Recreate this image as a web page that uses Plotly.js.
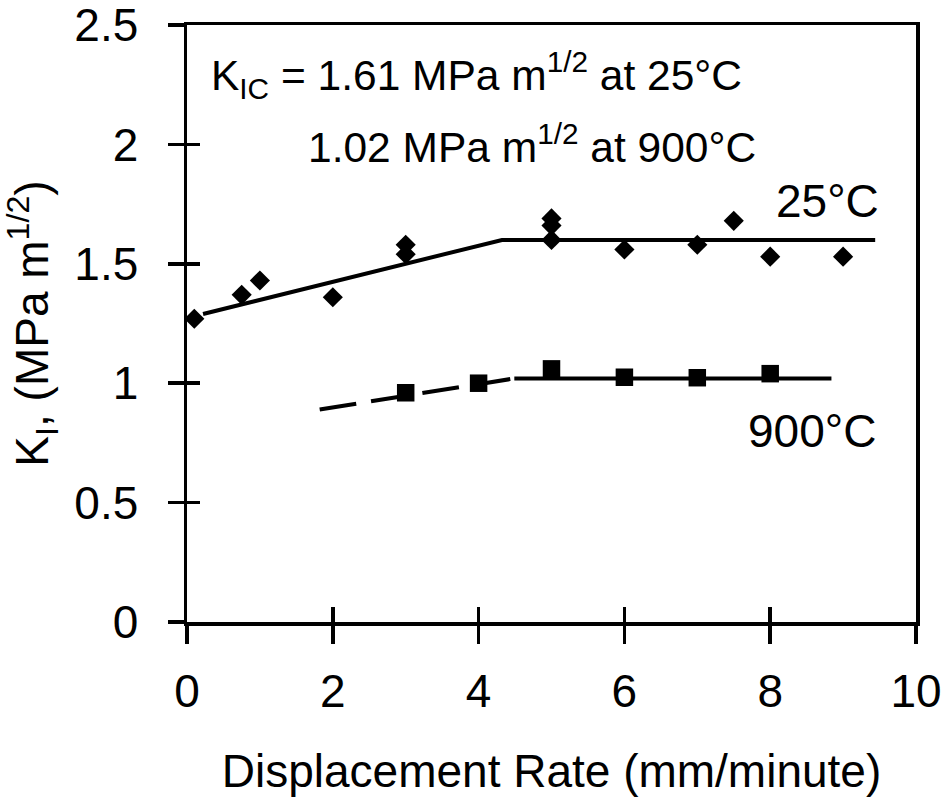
<!DOCTYPE html>
<html>
<head>
<meta charset="utf-8">
<script src="https://cdn.plot.ly/plotly-3.0.1.min.js"></script>
<style>html,body{margin:0;padding:0;background:#fff;}#chart{width:944px;height:803px;}</style>
</head>
<body>
<div id="chart"></div>
<script>
// Measured data, 25°C (diamonds)
const rate25 = [0.1, 0.75, 1.0, 2.0, 3.0, 3.0, 5.0, 5.0, 5.0, 6.0, 7.0, 7.5, 8.0, 9.0];
const k25    = [1.27, 1.37, 1.43, 1.36, 1.58, 1.54, 1.69, 1.66, 1.60, 1.56, 1.58, 1.68, 1.53, 1.53];
// Measured data, 900°C (squares)
const rate900 = [3.0, 4.0, 5.0, 6.0, 7.0, 8.0];
const k900    = [0.96, 1.00, 1.06, 1.025, 1.023, 1.04];
// Fit lines
const fit25X = [0.22, 4.32, 9.44];
const fit25Y = [1.29, 1.60, 1.60];
const fit900DashX = [1.82, 4.49];
const fit900DashY = [0.89, 1.02];
const fit900X = [4.49, 8.84];
const fit900Y = [1.02, 1.02];
// Axis ticks
const xTicks = [0, 2, 4, 6, 8, 10];
const yTicks = [0, 0.5, 1, 1.5, 2, 2.5];
const yTickText = ['0', '0.5', '1', '1.5', '2', '2.5'];

const FONT = 'Liberation Sans, Arial, Helvetica, sans-serif';

const traces = [
  {x: fit25X, y: fit25Y, mode: 'lines', line: {color: '#000', width: 4}, hoverinfo: 'skip'},
  {x: fit900DashX, y: fit900DashY, mode: 'lines', line: {color: '#000', width: 4, dash: '37px,15px'}, hoverinfo: 'skip'},
  {x: fit900X, y: fit900Y, mode: 'lines', line: {color: '#000', width: 4}, hoverinfo: 'skip'},
  {x: rate25, y: k25, mode: 'markers', marker: {symbol: 'diamond', size: 15.5, color: '#000'}},
  {x: rate900, y: k900, mode: 'markers', marker: {symbol: 'square', size: 17.5, color: '#000'}},
  {x: [], y: [], xaxis: 'x2', yaxis: 'y2', mode: 'markers', hoverinfo: 'skip'}
];

const layout = {
  width: 944, height: 803,
  paper_bgcolor: '#fff', plot_bgcolor: '#fff',
  showlegend: false,
  margin: {l: 187, r: 28, t: 25, b: 181, pad: 0},
  font: {family: FONT, size: 46, color: '#000'},
  xaxis: {
    range: [0, 10], tickvals: xTicks, ticktext: xTicks.map(String),
    ticks: 'outside', ticklen: 18, tickwidth: 3.5, tickcolor: '#000',
    showline: true, linewidth: 3.5, linecolor: '#000', mirror: true,
    showgrid: false, zeroline: false,
    tickfont: {family: FONT, size: 46, color: '#000'},
    ticklabelstandoff: 8, ticklabeloverflow: 'allow',
    title: {text: 'Displacement Rate (mm/minute)', font: {family: FONT, size: 46, color: '#000'}, standoff: 40}
  },
  yaxis: {
    range: [0, 2.5001], tickvals: yTicks, ticktext: yTickText,
    ticks: 'outside', ticklen: 16, tickwidth: 3.5, tickcolor: '#000',
    showline: true, linewidth: 3.5, linecolor: '#000', mirror: true,
    showgrid: false, zeroline: false,
    tickfont: {family: FONT, size: 46, color: '#000'},
    ticklabelstandoff: 20, ticklabeloverflow: 'allow',
    title: {text: 'K<sub>I</sub>, (MPa m<sup>1/2</sup>)', font: {family: FONT, size: 46, color: '#000'}, standoff: 20}
  },
  xaxis2: {
    overlaying: 'x', anchor: 'y2', side: 'bottom', range: [0, 10], tickvals: xTicks,
    ticks: 'inside', ticklen: 15, tickwidth: 3.5, tickcolor: '#000',
    showticklabels: false, showline: false, showgrid: false, zeroline: false
  },
  yaxis2: {
    overlaying: 'y', anchor: 'x2', side: 'left', range: [0, 2.5001], tickvals: yTicks,
    ticks: 'inside', ticklen: 13, tickwidth: 3.5, tickcolor: '#000',
    showticklabels: false, showline: false, showgrid: false, zeroline: false
  },
  annotations: [
    {x: 0.30, y: 2.29, xref: 'x', yref: 'y', xanchor: 'left', yanchor: 'middle', showarrow: false,
     text: 'K<sub>IC</sub> = 1.61 MPa m<sup>1/2</sup> at 25°C', font: {family: FONT, size: 42.5, color: '#000'}},
    {x: 1.63, y: 2.0, xref: 'x', yref: 'y', xanchor: 'left', yanchor: 'middle', showarrow: false,
     text: '1.02 MPa m<sup>1/2</sup> at 900°C', font: {family: FONT, size: 42.5, color: '#000'}},
    {x: 8.05, y: 1.765, xref: 'x', yref: 'y', xanchor: 'left', yanchor: 'middle', showarrow: false,
     text: '25°C', font: {family: FONT, size: 46, color: '#000'}},
    {x: 7.67, y: 0.80, xref: 'x', yref: 'y', xanchor: 'left', yanchor: 'middle', showarrow: false,
     text: '900°C', font: {family: FONT, size: 46, color: '#000'}}
  ]
};

Plotly.newPlot('chart', traces, layout, {displayModeBar: false, staticPlot: true});
</script>
</body>
</html>
